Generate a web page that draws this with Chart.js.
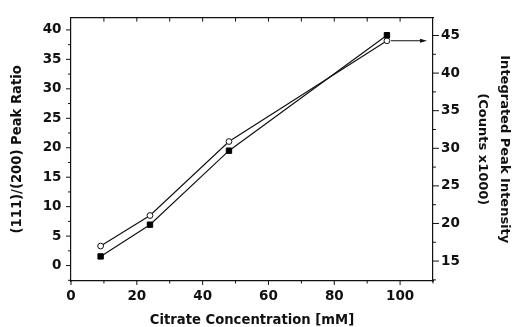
<!DOCTYPE html>
<html><head><meta charset="utf-8">
<script src="https://cdn.jsdelivr.net/npm/chart.js@4"></script>
<style>html,body{margin:0;padding:0;background:#fff;}</style>
</head><body>
<canvas id="c" width="513" height="327"></canvas>
<script>
// ---- data ----
const concentration = [9, 24, 48, 96];
const peakRatio = [1.55, 6.94, 19.5, 39.1];        // left axis, filled squares
const peakIntensity = [17.0, 21.06, 30.9, 44.3];   // right axis, open circles
const xTicks = [0, 20, 40, 60, 80, 100];
const xMinorTicks = [10, 30, 50, 70, 90, 110];
const topTicks = [10, 20, 30, 40, 50, 60, 70, 80, 90, 100];
const leftTicks = [0, 5, 10, 15, 20, 25, 30, 35, 40];
const leftMinorTicks = [-2.5, 2.5, 7.5, 12.5, 17.5, 22.5, 27.5, 32.5, 37.5];
const rightTicks = [15, 20, 25, 30, 35, 40, 45];
const rightMinorTicks = [12.5, 17.5, 22.5, 27.5, 32.5, 37.5, 42.5];

const INK = '#111';
const FONT = {family: '"DejaVu Sans", sans-serif', size: 13.5, weight: 'bold'};
const TITLE_FONT = {family: '"DejaVu Sans", sans-serif', size: 13.2, weight: 'bold'};
const border = {display: true, color: INK, width: 1.2};

const tickPlugin = {
  id: 'ticks',
  afterDraw(chart) {
    const ctx = chart.ctx, a = chart.chartArea, s = chart.scales;
    ctx.save();
    ctx.strokeStyle = INK; ctx.lineWidth = 1;
    ctx.beginPath();
    const v = (scale, vals, x0, len) => vals.forEach(t => { const y = scale.getPixelForValue(t); ctx.moveTo(x0, y); ctx.lineTo(x0 + len, y); });
    const h = (scale, vals, y0, len) => vals.forEach(t => { const x = scale.getPixelForValue(t); ctx.moveTo(x, y0); ctx.lineTo(x, y0 + len); });
    v(s.y, leftTicks, a.left, -5);
    v(s.y, leftMinorTicks, a.left, -3);
    v(s.y2, rightTicks, a.right, 6);
    v(s.y2, rightMinorTicks, a.right, 3);
    h(s.x, xTicks, a.bottom, 4);
    h(s.x, xMinorTicks, a.bottom, 2.5);
    h(s.x2, topTicks, a.top, 4);
    ctx.stroke();
    ctx.restore();
  }
};

const arrowPlugin = {
  id: 'arrow',
  afterDatasetsDraw(chart) {
    const meta = chart.getDatasetMeta(1);
    const p = meta.data[meta.data.length - 1];
    const a = chart.chartArea, ctx = chart.ctx;
    const x0 = p.x + 4, x1 = a.right - 6, y = p.y;
    ctx.save();
    ctx.strokeStyle = INK; ctx.fillStyle = INK; ctx.lineWidth = 1.1;
    ctx.beginPath(); ctx.moveTo(x0, y); ctx.lineTo(x1 - 4, y); ctx.stroke();
    ctx.beginPath(); ctx.moveTo(x1, y); ctx.lineTo(x1 - 7, y - 2); ctx.lineTo(x1 - 7, y + 2); ctx.closePath(); ctx.fill();
    ctx.restore();
  }
};

new Chart(document.getElementById('c'), {
  type: 'line',
  data: {
    datasets: [
      {
        data: concentration.map((x, i) => ({x, y: peakRatio[i]})),
        xAxisID: 'x', yAxisID: 'y',
        borderColor: INK, borderWidth: 1.15, tension: 0, fill: false,
        pointStyle: 'rect', pointRadius: 3.8, pointBackgroundColor: '#000',
        pointBorderColor: '#000', pointBorderWidth: 1
      },
      {
        data: concentration.map((x, i) => ({x, y: peakIntensity[i]})),
        xAxisID: 'x', yAxisID: 'y2',
        borderColor: INK, borderWidth: 1.15, tension: 0, fill: false,
        pointStyle: 'circle', pointRadius: 2.9, pointBackgroundColor: '#fff',
        pointBorderColor: INK, pointBorderWidth: 1
      }
    ]
  },
  options: {
    responsive: false, animation: false, devicePixelRatio: 1,
    layout: {padding: 0},
    plugins: {legend: {display: false}, tooltip: {enabled: false}},
    scales: {
      x: {
        type: 'linear', position: 'bottom', min: 0, max: 110,
        afterBuildTicks: s => { s.ticks = xTicks.map(v => ({value: v})); },
        afterFit: s => { s.height = 46; },
        ticks: {padding: 7.5, font: FONT, color: INK, maxRotation: 0, autoSkip: false},
        grid: {display: false, drawTicks: false},
        border,
        title: {display: true, text: 'Citrate Concentration [mM]', font: TITLE_FONT, color: INK, padding: {top: 0, bottom: -1.5}}
      },
      x2: {
        type: 'linear', position: 'top', min: 0, max: 110,
        afterFit: s => { s.height = 13; },
        ticks: {display: false},
        grid: {display: false, drawTicks: false},
        border
      },
      y: {
        type: 'linear', position: 'left', min: -2.62, max: 42.09,
        afterBuildTicks: s => { s.ticks = leftTicks.map(v => ({value: v})); },
        afterFit: s => { s.width = 71; },
        ticks: {padding: 9.5, font: FONT, color: INK, autoSkip: false},
        grid: {display: false, drawTicks: false},
        border,
        title: {display: true, text: '(111)/(200) Peak Ratio', font: TITLE_FONT, color: INK, padding: {top: 9.2, bottom: 0}}
      },
      y2: {
        type: 'linear', position: 'right', min: 12.35, max: 47.38,
        afterBuildTicks: s => { s.ticks = rightTicks.map(v => ({value: v})); },
        afterFit: s => { s.width = 80; },
        ticks: {padding: 8, font: FONT, color: INK, autoSkip: false},
        grid: {display: false, drawTicks: false},
        border,
        title: {display: true, text: ['Integrated Peak Intensity', '(Counts x1000)'],
          font: {family: '"DejaVu Sans", sans-serif', size: 13, weight: 'bold', lineHeight: 1.65}, color: INK, padding: {top: -1.75, bottom: 0}}
      }
    }
  },
  plugins: [tickPlugin, arrowPlugin]
});
</script>
</body></html>
